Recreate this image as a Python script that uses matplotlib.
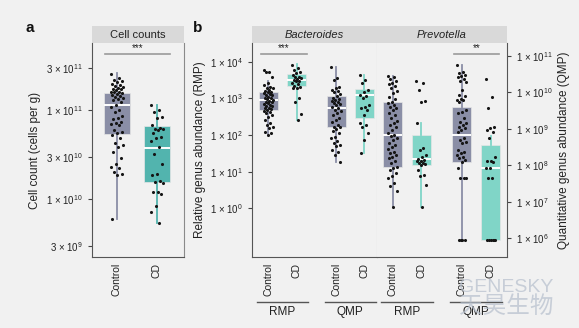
import numpy as np
import matplotlib
matplotlib.use('Agg')
import matplotlib.pyplot as plt
from matplotlib.patches import Rectangle
from matplotlib.ticker import NullLocator
from matplotlib.transforms import blended_transform_factory

plt.rcParams['font.family'] = ['Liberation Sans', 'DejaVu Sans']
plt.rcParams['mathtext.fontset'] = 'custom'
plt.rcParams['mathtext.rm'] = 'Liberation Sans'
plt.rcParams['mathtext.it'] = 'Liberation Sans:italic'
plt.rcParams['mathtext.bf'] = 'Liberation Sans:bold'

BG = '#f1f1f1'
STRIP = '#d9d9d9'
C_CTRL = '#8a8ea6'
C_CD_A = '#52b4ae'
C_CD_B = '#80d5c7'
TXT = '#222222'

# ---- data (log10 values) ----
# box stats: whisker low, q1, median, q3, whisker high
cell_stats_ctrl = [9.78, 10.73, 11.06, 11.19, 11.42]
cell_stats_cd = [9.73, 10.19, 10.58, 10.82, 11.06]
cell_ctrl = [11.41, 11.36, 11.34, 11.33, 11.32, 11.30, 11.28, 11.27, 11.26, 11.25,
             11.24, 11.24, 11.23, 11.21, 11.21, 11.20, 11.19, 11.18, 11.17, 11.16,
             11.15, 11.14, 11.13, 11.11, 11.09, 11.06, 11.04, 11.00, 10.98, 10.94,
             10.91, 10.90, 10.87, 10.86, 10.85, 10.83, 10.78, 10.76, 10.74, 10.72,
             10.69, 10.63, 10.61, 10.59, 10.53, 10.46, 10.40, 10.36, 10.35, 10.31,
             10.29, 10.27, 9.78]
cell_cd = [11.06, 11.00, 10.98, 10.93, 10.91, 10.83, 10.80, 10.79, 10.79, 10.78,
           10.75, 10.70, 10.69, 10.65, 10.59, 10.51, 10.40, 10.29, 10.27, 10.21,
           10.20, 10.18, 10.08, 10.08, 10.06, 9.93, 9.86, 9.73]

# Bacteroides, RMP (left scale) and QMP (right scale)
bac_rmp_stats_ctrl = [2.00, 2.67, 2.96, 3.18, 3.46]
bac_rmp_stats_cd = [2.41, 3.35, 3.51, 3.66, 3.93]
bac_qmp_stats_ctrl = [8.10, 9.04, 9.57, 9.91, 10.71]
bac_qmp_stats_cd = [8.33, 9.31, 9.92, 10.10, 10.48]
bac_rmp_ctrl = [3.77, 3.73, 3.71, 3.59, 3.41, 3.37, 3.32, 3.29, 3.28, 3.23, 3.20, 3.18,
                3.17, 3.14, 3.11, 3.09, 3.08, 3.05, 3.02, 3.00, 2.98, 2.96, 2.93, 2.91,
                2.89, 2.87, 2.84, 2.82, 2.80, 2.78, 2.75, 2.73, 2.71, 2.68, 2.66, 2.64,
                2.59, 2.55, 2.50, 2.41, 2.32, 2.28, 2.23, 2.19, 2.09, 2.05, 2.00]
bac_rmp_cd = [3.91, 3.84, 3.77, 3.73, 3.68, 3.64, 3.59, 3.57, 3.55, 3.53, 3.50, 3.48,
              3.46, 3.41, 3.38, 3.35, 3.32, 3.29, 3.28, 3.00, 2.91, 2.57, 2.41]
bac_qmp_ctrl = [10.71, 10.39, 10.34, 10.16, 10.11, 10.07, 10.04, 10.00, 9.95, 9.91,
                9.86, 9.82, 9.79, 9.77, 9.75, 9.70, 9.68, 9.66, 9.61, 9.57, 9.52, 9.48,
                9.43, 9.38, 9.31, 9.25, 9.20, 9.11, 9.06, 9.04, 9.00, 8.95, 8.88, 8.79,
                8.74, 8.67, 8.61, 8.56, 8.54, 8.43, 8.38, 8.29, 8.10]
bac_qmp_cd = [10.48, 10.34, 10.25, 10.07, 10.02, 9.93, 9.89, 9.84, 9.66, 9.61, 9.57,
              9.52, 9.38, 9.15, 9.11, 9.06, 8.88, 8.70, 8.33]

# Prevotella
prev_rmp_stats_ctrl = [0.05, 1.14, 2.00, 2.91, 3.61]
prev_rmp_stats_cd = [0.05, 1.19, 1.34, 2.00, 2.32]
prev_qmp_stats_ctrl = [5.96, 8.10, 8.84, 9.61, 10.75]
prev_qmp_stats_cd = [5.96, 5.96, 7.92, 8.56, 8.80]
prev_rmp_ctrl = [3.61, 3.57, 3.52, 3.48, 3.43, 3.39, 3.34, 3.27, 3.21, 3.14, 3.05, 2.97,
                 2.91, 2.87, 2.82, 2.77, 2.73, 2.68, 2.61, 2.55, 2.46, 2.37, 2.32, 2.28,
                 2.21, 2.14, 2.05, 2.00, 1.96, 1.91, 1.87, 1.79, 1.73, 1.67, 1.61, 1.55,
                 1.50, 1.46, 1.41, 1.37, 1.30, 1.23, 1.14, 1.09, 1.05, 0.96, 0.89, 0.82,
                 0.69, 0.60, 0.46, 0.05]
prev_rmp_cd = [3.46, 3.43, 3.23, 2.94, 2.91, 2.32, 1.64, 1.59, 1.46, 1.39, 1.34, 1.32,
               1.30, 1.28, 1.25, 1.23, 1.21, 1.19, 1.05, 0.91, 0.87, 0.64, 0.05]
prev_qmp_ctrl = [10.75, 10.57, 10.52, 10.48, 10.45, 10.42, 10.36, 10.32, 10.30, 10.07,
                 9.93, 9.89, 9.81, 9.79, 9.78, 9.75, 9.52, 9.47, 9.43, 9.29, 9.20, 9.15,
                 9.11, 9.06, 9.02, 8.97, 8.93, 8.74, 8.70, 8.65, 8.61, 8.42, 8.38, 8.33,
                 8.29, 8.24, 8.20, 8.15, 8.10, 7.92, 7.65, 7.65, 7.65,
                 5.96, 5.96, 5.96, 5.96]
prev_qmp_cd = [10.36, 9.87, 9.57, 9.06, 9.02, 8.97, 8.93, 8.74, 8.24, 8.13, 8.13, 8.10,
               7.92, 7.92, 7.65, 7.65, 5.96, 5.96, 5.96, 5.96, 5.96, 5.96]

groups = ['Control', 'CD', 'Control', 'CD']
pos_b = [1, 2, 3.4, 4.4]


def draw_box(ax, pos, stats, pts, color, width, jit):
    lo, q1, med, q3, hi = [10 ** v for v in stats]
    ax.bxp([dict(whislo=lo, q1=q1, med=med, q3=q3, whishi=hi, fliers=[])],
           positions=[pos], widths=width, showcaps=False, showfliers=False,
           patch_artist=True, manage_ticks=False,
           boxprops=dict(facecolor=color, edgecolor='#e6e6e6', linewidth=0.5),
           whiskerprops=dict(color=color, linewidth=1.3),
           medianprops=dict(color='white', linewidth=1.4))
    vals = 10 ** np.array(pts)
    n = len(vals)
    off = ((np.arange(n) * 0.618034) % 1 - 0.5) * 2 * jit
    ax.scatter(pos + off, vals, s=5, color='#151515', zorder=3, linewidths=0)


def style_log(ax):
    ax.set_yscale('log')
    ax.yaxis.set_minor_locator(NullLocator())


def strip(ax, label, italic=False, frac=17 / 214):
    ax.add_patch(Rectangle((0, 1), 1, frac, transform=ax.transAxes,
                           facecolor=STRIP, edgecolor='none', clip_on=False))
    ax.text(0.5, 1 + frac / 2, label, transform=ax.transAxes, ha='center',
            va='center', fontsize=8, color=TXT,
            style='italic' if italic else 'normal')


def sig(ax, x0, x1, label):
    tr = blended_transform_factory(ax.transData, ax.transAxes)
    ax.plot([x0, x1], [0.95, 0.95], color='#9a9a9a', lw=1.2, transform=tr, clip_on=False)
    ax.text((x0 + x1) / 2, 0.952, label, transform=tr, ha='center', va='bottom',
            fontsize=7, color=TXT)


def sup_label(base, e):
    return '%s × 10$^{%d}$' % (base, e)


fig = plt.figure(figsize=(5.79, 3.28), dpi=100, facecolor=BG)
bot = 71 / 328
hgt = 214 / 328

# ---- panel a ----
ax_a = fig.add_axes([92 / 579, bot, 92 / 579, hgt], facecolor=BG)
style_log(ax_a)
draw_box(ax_a, 1, cell_stats_ctrl, cell_ctrl, C_CTRL, 0.63, 0.16)
draw_box(ax_a, 2, cell_stats_cd, cell_cd, C_CD_A, 0.63, 0.16)
ax_a.set_xlim(0.375, 2.675)
ax_a.set_ylim(10 ** 9.353, 10 ** 11.755)
ax_a.set_yticks([3e9, 1e10, 3e10, 1e11, 3e11])
ax_a.set_yticklabels([sup_label(3, 9), sup_label(1, 10), sup_label(3, 10),
                      sup_label(1, 11), sup_label(3, 11)])
ax_a.set_xticks([1, 2])
ax_a.set_xticklabels(['Control', 'CD'], rotation=90)
ax_a.tick_params(axis='y', length=3, labelsize=7, colors='#444444', labelcolor=TXT)
ax_a.tick_params(axis='x', length=0, labelsize=7.5, labelcolor=TXT, pad=4)
ax_a.set_ylabel('Cell count (cells per g)', fontsize=8.5, color=TXT, labelpad=4)
ax_a.spines['top'].set_visible(False)
for s in ['left', 'bottom']:
    ax_a.spines[s].set_color('#555555')
ax_a.spines['right'].set_color('#8a8a8a')
strip(ax_a, 'Cell counts')
sig(ax_a, 0.7, 2.33, '***')

# ---- panel b ----
rmp_lim = (10 ** -1.327, 10 ** 4.51)
qmp_lim = (10 ** 5.49, 10 ** 11.356)
facets = [
    ('Bacteroides', 252, 125, (0.42, 4.85),
     [bac_rmp_stats_ctrl, bac_rmp_stats_cd], [bac_rmp_ctrl, bac_rmp_cd],
     [bac_qmp_stats_ctrl, bac_qmp_stats_cd], [bac_qmp_ctrl, bac_qmp_cd]),
    ('Prevotella', 377, 130, (0.46, 4.97),
     [prev_rmp_stats_ctrl, prev_rmp_stats_cd], [prev_rmp_ctrl, prev_rmp_cd],
     [prev_qmp_stats_ctrl, prev_qmp_stats_cd], [prev_qmp_ctrl, prev_qmp_cd]),
]
axes_b = []
for i, (name, left, width, xl, rs, rp, qs, qp) in enumerate(facets):
    ax = fig.add_axes([left / 579, bot, width / 579, hgt], facecolor=BG)
    axq = ax.twinx()
    style_log(ax)
    style_log(axq)
    colors = [C_CTRL, C_CD_B]
    for k in range(2):
        draw_box(ax, pos_b[k], rs[k], rp[k], colors[k], 0.67, 0.17)
        draw_box(axq, pos_b[k + 2], qs[k], qp[k], colors[k], 0.67, 0.17)
    ax.set_xlim(*xl)
    ax.set_ylim(*rmp_lim)
    axq.set_ylim(*qmp_lim)
    ax.set_xticks(pos_b)
    ax.set_xticklabels(groups, rotation=90)
    ax.tick_params(axis='x', length=0, labelsize=7.5, labelcolor=TXT, pad=4)
    ax.spines['top'].set_visible(False)
    ax.spines['bottom'].set_color('#555555')
    for s in axq.spines.values():
        s.set_visible(False)
    if i == 0:
        ax.set_yticks([1, 10, 100, 1e3, 1e4])
        ax.set_yticklabels([sup_label(1, e) for e in range(5)])
        ax.tick_params(axis='y', length=3, labelsize=7, colors='#444444', labelcolor=TXT)
        ax.spines['left'].set_color('#555555')
        ax.spines['right'].set_color('#c9c9c0')
        ax.set_ylabel('Relative genus abundance (RMP)', fontsize=8.5, color=TXT, labelpad=3)
        axq.tick_params(axis='y', right=False, labelright=False)
    else:
        ax.tick_params(axis='y', left=False, labelleft=False)
        ax.spines['left'].set_visible(False)
        ax.spines['right'].set_visible(False)
        axq.spines['right'].set_visible(True)
        axq.spines['right'].set_color('#555555')
        axq.set_yticks([10.0 ** e for e in range(6, 12)])
        axq.set_yticklabels([sup_label(1, e) for e in range(6, 12)])
        axq.tick_params(axis='y', length=3, labelsize=7, colors='#444444', labelcolor=TXT)
        axq.set_ylabel('Quantitative genus abundance (QMP)', fontsize=8.5, color=TXT,
                       labelpad=4)
    strip(ax, name, italic=True)
    # group labels under the tick labels
    tr = blended_transform_factory(ax.transData, ax.transAxes)
    for c, lab in [(1.5, 'RMP'), (3.9, 'QMP')]:
        ax.plot([c - 0.9, c + 0.9], [-0.21, -0.21], color='#555555', lw=1,
                transform=tr, clip_on=False)
        ax.text(c, -0.257, lab, transform=tr, ha='center', va='center',
                fontsize=8.5, color=TXT)
    axes_b.append(ax)

sig(axes_b[0], 0.74, 2.37, '***')
sig(axes_b[1], 3.13, 4.69, '**')

fig.text(30 / 579, 1 - 28 / 328, 'a', fontsize=11, fontweight='bold', ha='center',
         va='center', color='#111111')
fig.text(198 / 579, 1 - 28 / 328, 'b', fontsize=11, fontweight='bold', ha='center',
         va='center', color='#111111')

# watermark
fig.text(506 / 579, 1 - 287 / 328, 'GENESKY', fontsize=14, color='#b9c2cf',
         alpha=0.75, ha='center', va='center')
fig.text(506 / 579, 1 - 306 / 328, '天昊生物', fontsize=17, color='#b9c2cf',
         alpha=0.75, ha='center', va='center', family=['Noto Sans CJK SC'])

fig.savefig('out.png', dpi=100, facecolor=BG)
